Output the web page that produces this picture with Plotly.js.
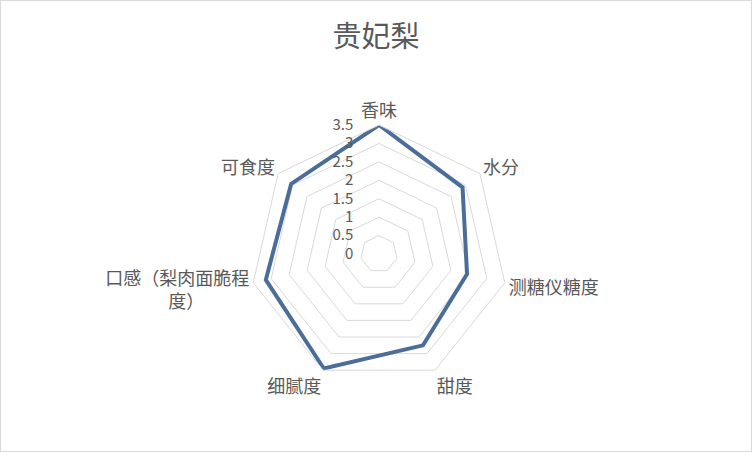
<!DOCTYPE html>
<html>
<head>
<meta charset="utf-8">
<script src="https://cdn.plot.ly/plotly-3.0.1.min.js"></script>
<style>
  body { margin: 0; background: #fff; }
  #chart { width: 750px; height: 450px; border: 1px solid #d9d9d9; }
</style>
</head>
<body>
<div id="chart"></div>
<script>
// categories go clockwise from the top
var categories = ['香味', '水分', '测糖仪糖度', '甜度', '细腻度', '口感（梨肉面脆程<br>度）　　　', '可食度'];
var values = [3.5, 2.9, 2.45, 2.75, 3.45, 3.15, 3.05];
var radialTicks = [0, 0.5, 1, 1.5, 2, 2.5, 3, 3.5];

var textColor = '#595959';
var gridColor = '#d9d9d9';

var trace = {
    type: 'scatterpolar',
    r: values.concat([values[0]]),
    theta: categories.concat([categories[0]]),
    mode: 'lines',
    line: { color: '#4a6d99', width: 4 },
    hoverinfo: 'r+theta'
};

var layout = {
    width: 750,
    height: 450,
    showlegend: false,
    paper_bgcolor: '#fff',
    font: { family: '"Noto Sans CJK SC", "Noto Sans", sans-serif', size: 18, color: textColor },
    margin: { l: 0, r: 0, t: 0, b: 0 },
    title: {
        text: '贵妃梨',
        font: { size: 29, color: textColor },
        x: 0.5,
        xanchor: 'center',
        y: 0.92,
        yanchor: 'middle'
    },
    polar: {
        domain: { x: [0.332, 0.676], y: [0.1511, 0.7244] },
        gridshape: 'linear',
        bgcolor: '#fff',
        angularaxis: {
            rotation: 90,
            direction: 'clockwise',
            showgrid: false,
            showline: true,
            linecolor: gridColor,
            linewidth: 1,
            ticks: '',
            tickfont: { size: 18, color: textColor }
        },
        radialaxis: {
            range: [0, 3.5],
            tickvals: radialTicks,
            ticktext: radialTicks.map(String),
            angle: 90,
            tickangle: 90,
            side: 'counterclockwise',
            showline: false,
            ticks: 'outside',
            ticklen: 20,
            tickcolor: 'rgba(0,0,0,0)',
            gridcolor: gridColor,
            gridwidth: 1,
            tickfont: { size: 15, color: textColor }
        }
    }
};

Plotly.newPlot('chart', [trace], layout, { displayModeBar: false, staticPlot: true });
</script>
</body>
</html>
